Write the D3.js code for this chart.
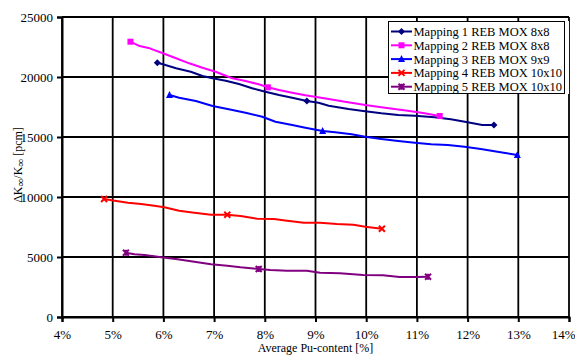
<!DOCTYPE html>
<html>
<head>
<meta charset="utf-8">
<script src="https://cdn.jsdelivr.net/npm/d3@7"></script>
<style>
  html, body { margin: 0; padding: 0; background: #fff; }
  svg { display: block; }
  text { font-family: "Liberation Serif", "Times New Roman", serif; fill: #000; }
</style>
</head>
<body>
<svg id="chart" width="575" height="355"></svg>
<script>
// ---------------- data ----------------
const xTicks = [0.04, 0.05, 0.06, 0.07, 0.08, 0.09, 0.10, 0.11, 0.12, 0.13, 0.14];
const yTicks = [0, 5000, 10000, 15000, 20000, 25000];

const seriesNames = [
  "Mapping 1 REB MOX 8x8",
  "Mapping 2 REB MOX 8x8",
  "Mapping 3 REB MOX 9x9",
  "Mapping 4 REB MOX 10x10",
  "Mapping 5 REB MOX 10x10"
];
const seriesColors = ["#000080", "#FF00FF", "#0000FF", "#FF0000", "#800080"];
const seriesMarkers = ["diamond", "square", "triangle", "x", "star"];

const mapping1X = [5.88, 5.99, 6.25, 6.54, 6.77, 6.97, 7.23, 7.49, 7.75, 8.01, 8.28, 8.54, 8.83, 9.06, 9.26, 9.65, 9.94, 10.30, 10.63, 10.96, 11.35, 11.67, 12.00, 12.29, 12.52];
const mapping1Y = [21190, 21060, 20725, 20440, 20080, 19890, 19690, 19420, 19060, 18775, 18500, 18275, 18000, 17860, 17610, 17330, 17170, 16975, 16830, 16775, 16640, 16475, 16225, 16000, 16000];
const mapping1Marks = [0, 12, 24];

const mapping2X = [5.35, 5.53, 5.73, 5.99, 6.25, 6.51, 6.77, 7.03, 7.23, 7.36, 7.62, 7.88, 8.06, 8.28, 8.54, 8.80, 9.26, 9.58, 9.98, 10.37, 10.82, 11.15, 11.45];
const mapping2Y = [22940, 22580, 22390, 21975, 21560, 21140, 20775, 20440, 20100, 19890, 19670, 19390, 19140, 18920, 18690, 18475, 18170, 17940, 17670, 17440, 17190, 16975, 16750];
const mapping2Marks = [0, 12, 22];

const mapping3X = [6.12, 6.31, 6.64, 6.97, 7.29, 7.62, 7.95, 8.21, 8.54, 8.80, 9.14, 9.39, 9.71, 9.98, 10.30, 10.63, 10.96, 11.28, 11.61, 11.94, 12.26, 12.59, 12.98];
const mapping3Y = [18500, 18275, 18000, 17580, 17310, 17025, 16690, 16275, 16000, 15775, 15500, 15390, 15225, 15025, 14830, 14670, 14525, 14390, 14330, 14190, 14000, 13775, 13500];
const mapping3Marks = [0, 10, 22];

const mapping4X = [4.83, 5.04, 5.30, 5.56, 5.82, 6.02, 6.31, 6.61, 6.94, 7.26, 7.52, 7.85, 8.18, 8.44, 8.77, 9.09, 9.42, 9.75, 9.98, 10.31];
const mapping4Y = [9830, 9690, 9525, 9420, 9275, 9140, 8860, 8690, 8525, 8525, 8420, 8190, 8170, 8025, 7860, 7860, 7750, 7690, 7525, 7360];
const mapping4Marks = [0, 9, 19];

const mapping5X = [5.26, 5.43, 5.63, 5.96, 6.28, 6.61, 6.94, 7.26, 7.52, 7.88, 8.11, 8.44, 8.83, 9.09, 9.48, 9.94, 10.33, 10.66, 10.99, 11.22];
const mapping5Y = [5360, 5225, 5170, 4975, 4810, 4610, 4390, 4275, 4140, 4000, 3920, 3860, 3860, 3690, 3640, 3500, 3475, 3335, 3335, 3360];
const mapping5Marks = [0, 9, 19];

const seriesX = [mapping1X, mapping2X, mapping3X, mapping4X, mapping5X];
const seriesY = [mapping1Y, mapping2Y, mapping3Y, mapping4Y, mapping5Y];
const seriesMarks = [mapping1Marks, mapping2Marks, mapping3Marks, mapping4Marks, mapping5Marks];

// ---------------- drawing ----------------
const svg = d3.select("#chart");
const pL = 62, pR = 569, pT = 17, pB = 317;

const x = d3.scaleLinear().domain([0.04, 0.14]).range([pL, pR]);
const y = d3.scaleLinear().domain([0, 25000]).range([pB, pT]);

// grid lines
const grid = svg.append("g");
grid.selectAll("line.h").data(yTicks).join("line")
  .attr("x1", pL).attr("x2", pR)
  .attr("y1", d => y(d)).attr("y2", d => y(d))
  .attr("stroke", "#000").attr("stroke-width", 2);
grid.selectAll("line.v").data(xTicks).join("line")
  .attr("x1", d => x(d)).attr("x2", d => x(d))
  .attr("y1", pT).attr("y2", pB)
  .attr("stroke", "#000").attr("stroke-width", 1.8);

// axes
const xAxis = d3.axisBottom(x).tickValues(xTicks)
  .tickFormat(d => Math.round(d * 100) + "%").tickSize(5).tickPadding(8);
const gx = svg.append("g").attr("transform", `translate(0,${pB})`).call(xAxis);
gx.select(".domain").attr("stroke-width", 2);
gx.selectAll(".tick line").attr("stroke-width", 2);
gx.selectAll("text").attr("font-size", 13).attr("font-family", "Liberation Serif");
// last label would run past the window edge; keep it inside
gx.selectAll(".tick").filter(d => d === 0.14).select("text")
  .attr("text-anchor", "end").attr("x", 575 - x(0.14));

const yAxis = d3.axisLeft(y).tickValues(yTicks).tickSize(5).tickPadding(4).tickFormat(d3.format("d"));
const gy = svg.append("g").attr("transform", `translate(${pL},0)`).call(yAxis);
gy.select(".domain").attr("stroke-width", 2);
gy.selectAll(".tick line").attr("stroke-width", 2);
gy.selectAll("text").attr("font-size", 13).attr("font-family", "Liberation Serif");

// axis titles
svg.append("text")
  .attr("x", (pL + pR) / 2).attr("y", 352)
  .attr("text-anchor", "middle").attr("font-size", 12)
  .text("Average Pu-content [%]");

const yt = svg.append("text")
  .attr("transform", "translate(22,165) rotate(-90)")
  .attr("text-anchor", "middle").attr("font-size", 12);
yt.append("tspan").text("ΔK");
yt.append("tspan").attr("font-size", 11).attr("dy", 2).text("∞");
yt.append("tspan").attr("dy", -2).text("/K");
yt.append("tspan").attr("font-size", 11).attr("dy", 2).text("∞");
yt.append("tspan").attr("dy", -2).text(" [pcm]");

// markers
function drawMarker(g, type, cx, cy, color) {
  const s = 3;
  if (type === "diamond") {
    g.append("path").attr("d", `M${cx},${cy - s - 0.5}L${cx + s + 0.5},${cy}L${cx},${cy + s + 0.5}L${cx - s - 0.5},${cy}Z`).attr("fill", color);
  } else if (type === "square") {
    g.append("rect").attr("x", cx - s).attr("y", cy - s).attr("width", 2 * s).attr("height", 2 * s).attr("fill", color);
  } else if (type === "triangle") {
    g.append("path").attr("d", `M${cx},${cy - s - 1}L${cx + s + 0.5},${cy + s}L${cx - s - 0.5},${cy + s}Z`).attr("fill", color);
  } else if (type === "x") {
    g.append("path").attr("d", `M${cx - s},${cy - s}L${cx + s},${cy + s}M${cx + s},${cy - s}L${cx - s},${cy + s}`)
      .attr("stroke", color).attr("stroke-width", 2).attr("fill", "none");
  } else if (type === "star") {
    g.append("path").attr("d", `M${cx - s},${cy - s}L${cx + s},${cy + s}M${cx + s},${cy - s}L${cx - s},${cy + s}M${cx},${cy - s}L${cx},${cy + s}`)
      .attr("stroke", color).attr("stroke-width", 2).attr("fill", "none");
  }
}

const line = d3.line().x(d => x(d[0] / 100)).y(d => y(d[1]));
const plot = svg.append("g");
seriesX.forEach((xs, i) => {
  const pts = xs.map((v, j) => [v, seriesY[i][j]]);
  plot.append("path").datum(pts).attr("d", line)
    .attr("fill", "none").attr("stroke", seriesColors[i]).attr("stroke-width", 2)
    .attr("stroke-linejoin", "round");
  seriesMarks[i].forEach(j => drawMarker(plot, seriesMarkers[i], x(pts[j][0] / 100), y(pts[j][1]), seriesColors[i]));
});

// legend
const lg = svg.append("g");
const lgX = 388, lgY = 21, lgW = 176, lgH = 72;
lg.append("rect").attr("x", lgX).attr("y", lgY).attr("width", lgW + 5).attr("height", lgH + 1).attr("fill", "#fff");
lg.append("rect").attr("x", lgX + 0.5).attr("y", lgY + 0.5).attr("width", lgW).attr("height", lgH)
  .attr("fill", "#fff").attr("stroke", "#000").attr("stroke-width", 1);
seriesNames.forEach((name, i) => {
  const cy = lgY + 10.5 + i * 13.8;
  lg.append("line").attr("x1", lgX + 3).attr("x2", lgX + 24).attr("y1", cy).attr("y2", cy)
    .attr("stroke", seriesColors[i]).attr("stroke-width", 2);
  drawMarker(lg, seriesMarkers[i], lgX + 13.5, cy, seriesColors[i]);
  lg.append("text").attr("x", lgX + 25.5).attr("y", cy + 4.5).attr("font-size", 12.5).text(name);
});
</script>
</body>
</html>
